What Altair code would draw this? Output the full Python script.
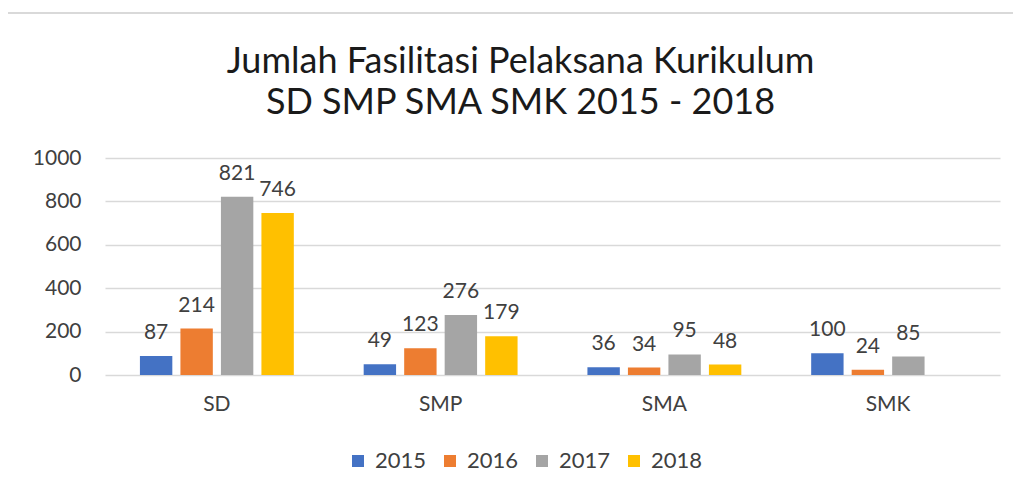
import altair as alt
import pandas as pd

categories = ["SD", "SMP", "SMA", "SMK"]
years = ["2015", "2016", "2017", "2018"]
values_2015 = [87, 49, 36, 100]
values_2016 = [214, 123, 34, 24]
values_2017 = [821, 276, 95, 85]
values_2018 = [746, 179, 48, None]
colors = ["#4472C4", "#ED7D31", "#A5A5A5", "#FFC000"]
y_ticks = [0, 200, 400, 600, 800, 1000]

rows = []
for yr, vals in zip(years, [values_2015, values_2016, values_2017, values_2018]):
    for c, v in zip(categories, vals):
        rows.append({"Jenjang": c, "Tahun": yr, "Jumlah": v})
df = pd.DataFrame(rows)

FONT = "Lato"
TXT = "#404040"

base = alt.Chart(df).encode(
    x=alt.X("Jenjang:N", sort=categories, title=None,
            scale=alt.Scale(paddingInner=0.276, paddingOuter=0.138),
            axis=alt.Axis(labelAngle=0, labelFontSize=21, labelFont=FONT, labelColor=TXT,
                          labelPadding=18, ticks=False, domain=False, grid=False)),
    xOffset=alt.XOffset("Tahun:N", sort=years,
                        scale=alt.Scale(paddingInner=0.2, paddingOuter=0.1)),
    y=alt.Y("Jumlah:Q", title=None, scale=alt.Scale(domain=[0, 1000]),
            axis=alt.Axis(values=y_ticks, format="d", labelFontSize=21, labelFont=FONT,
                          labelColor=TXT, labelPadding=24, ticks=False, domain=False,
                          gridColor="#d9d9d9", gridWidth=1.5)),
)

bars = base.mark_bar().encode(
    color=alt.Color("Tahun:N", sort=years, title=None,
                    scale=alt.Scale(domain=years, range=colors),
                    legend=alt.Legend(orient="none", direction="horizontal",
                                      legendX=242, legendY=292,
                                      symbolType="square", symbolSize=144,
                                      symbolStrokeWidth=0,
                                      labelFont=FONT, labelFontSize=22, labelColor=TXT,
                                      labelOffset=6, columnPadding=12))
).transform_filter("isValid(datum.Jumlah)")

labels = base.mark_text(baseline="alphabetic", dy=-17, font=FONT, fontSize=21,
                        color=TXT).encode(
    text=alt.Text("Jumlah:Q")
).transform_filter("isValid(datum.Jumlah)")

frame = alt.Chart(pd.DataFrame({"a": [0]})).mark_rect(
    filled=False, stroke="#d9d9d9", strokeWidth=2
).encode(x=alt.value(-100), x2=alt.value(1000), y=alt.value(-145), y2=alt.value(400))

chart = alt.layer(frame, bars, labels).properties(
    width=895, height=217,
    padding={"left": 97, "top": 150, "right": 13, "bottom": 106},
    autosize=alt.AutoSizeParams(type="none"),
    title=alt.Title(["Jumlah Fasilitasi Pelaksana Kurikulum", "SD SMP SMA SMK 2015 - 2018"],
                    font=FONT, fontSize=36, fontWeight="normal", color="#1a1a1a",
                    anchor="middle", dx=-32, lineHeight=41, offset=-110),
).configure_view(stroke=None)

chart.save("out.html", embed_options={"renderer": "svg", "actions": False})
